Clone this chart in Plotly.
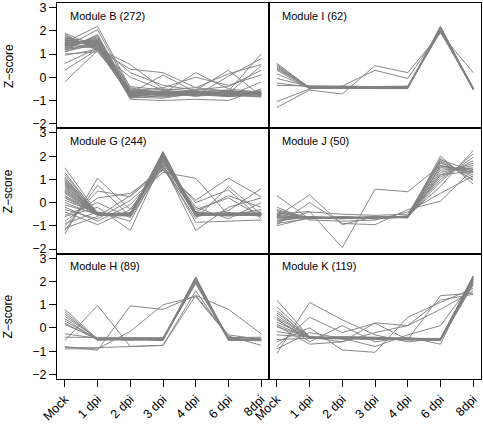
import plotly.graph_objects as go
from plotly.subplots import make_subplots

timepoints = ["Mock", "1 dpi", "2 dpi", "3 dpi", "4 dpi", "6 dpi", "8dpi"]
y_ticks = [-2, -1, 0, 1, 2, 3]
y_tick_labels = ["\u22122", "\u22121", "0", "1", "2", "3"]

module_B = [
    [1.85, 1.15, -0.70, -0.65, -0.70, -0.68, -0.72],
    [1.80, 1.20, -0.80, -0.72, -0.60, -0.75, -0.65],
    [1.75, 1.25, -0.65, -0.80, -0.75, -0.62, -0.78],
    [1.70, 1.30, -0.75, -0.60, -0.68, -0.80, -0.60],
    [1.65, 1.35, -0.85, -0.70, -0.78, -0.66, -0.70],
    [1.60, 1.40, -0.60, -0.75, -0.62, -0.72, -0.82],
    [1.55, 1.45, -0.72, -0.66, -0.82, -0.60, -0.68],
    [1.50, 1.50, -0.90, -0.78, -0.70, -0.78, -0.58],
    [1.45, 1.55, -0.68, -0.62, -0.66, -0.70, -0.75],
    [1.40, 1.60, -0.78, -0.85, -0.72, -0.64, -0.66],
    [1.35, 1.65, -0.62, -0.70, -0.58, -0.82, -0.80],
    [1.30, 1.70, -0.82, -0.64, -0.76, -0.70, -0.62],
    [1.25, 1.75, -0.70, -0.76, -0.64, -0.58, -0.72],
    [1.20, 1.80, -0.58, -0.68, -0.80, -0.76, -0.85],
    [1.15, 1.85, -0.76, -0.72, -0.68, -0.66, -0.64],
    [1.10, 1.60, -0.88, -0.62, -0.74, -0.84, -0.70],
    [1.90, 1.30, -0.66, -0.82, -0.60, -0.70, -0.76],
    [1.62, 1.38, -0.74, -0.69, -0.71, -0.73, -0.69],
    [1.48, 1.52, -0.67, -0.74, -0.77, -0.68, -0.74],
    [1.38, 1.62, -0.79, -0.67, -0.66, -0.77, -0.71],
    [1.50, 2.20, -0.45, -0.70, -0.72, -0.62, -0.68],
    [1.30, 2.05, -0.55, -0.60, -0.65, -0.75, -0.70],
    [-0.20, 1.15, 0.00, -0.55, -0.70, -0.65, -0.60],
    [0.30, 1.20, -0.60, -0.65, -0.80, -0.70, 0.50],
    [0.60, 1.25, 0.55, -0.50, -0.60, -0.55, -0.75],
    [0.95, 1.20, 0.35, 0.20, -0.45, -0.60, -0.70],
    [1.00, 1.10, -0.50, -0.70, 0.20, -0.50, -0.65],
    [1.20, 1.35, -0.60, -0.75, -0.55, 0.30, -0.80],
    [1.40, 1.25, -0.85, -0.90, -0.70, -0.60, 1.00],
    [1.60, 1.45, -0.75, -0.60, -0.80, 0.05, 0.80],
    [1.25, 1.40, 0.20, -0.35, -0.55, -0.40, 0.30],
    [1.70, 1.50, -0.95, -1.00, -0.95, -1.00, -0.50],
    [1.45, 1.30, -0.60, -0.45, 0.00, -0.35, 0.10],
    [1.10, 1.45, -0.70, 0.10, -0.65, -0.80, -0.20],
    [1.35, 1.55, -0.40, -0.55, -0.45, 0.15, 0.55],
]

module_I = [
    [0.60, -0.45, -0.45, -0.45, -0.45, 2.15, -0.50],
    [0.55, -0.48, -0.46, -0.48, -0.47, 2.10, -0.52],
    [0.50, -0.44, -0.47, -0.46, -0.44, 2.20, -0.48],
    [0.45, -0.47, -0.44, -0.44, -0.48, 2.05, -0.55],
    [0.40, -0.46, -0.48, -0.47, -0.46, 2.12, -0.45],
    [0.35, -0.43, -0.45, -0.45, -0.43, 2.00, -0.50],
    [0.30, -0.49, -0.43, -0.49, -0.49, 2.18, -0.53],
    [0.15, -0.45, -0.46, -0.44, -0.45, 2.08, -0.47],
    [-0.05, -0.40, -0.40, -0.40, -0.40, 2.10, -0.45],
    [-0.25, -0.42, -0.42, -0.42, -0.42, 1.95, -0.50],
    [-0.35, -0.38, -0.38, -0.40, -0.38, 2.00, -0.45],
    [-1.30, -0.55, -0.72, 0.50, 0.20, 1.90, 0.20],
    [-1.05, -0.50, -0.38, 0.30, -0.05, 2.00, -0.50],
]

module_G = [
    [1.50, -0.45, -0.50, 2.20, -0.45, -0.50, -0.48],
    [1.30, -0.50, -0.55, 2.15, -0.50, -0.45, -0.52],
    [1.20, -0.48, -0.45, 2.10, -0.55, -0.55, -0.45],
    [1.10, -0.52, -0.52, 2.05, -0.40, -0.50, -0.55],
    [1.05, -0.49, -0.50, 2.14, -0.52, -0.49, -0.51],
    [1.00, -0.46, -0.48, 2.00, -0.48, -0.58, -0.50],
    [0.95, -0.53, -0.55, 2.06, -0.46, -0.53, -0.47],
    [0.90, -0.55, -0.58, 1.95, -0.52, -0.48, -0.58],
    [0.85, -0.47, -0.47, 2.16, -0.54, -0.51, -0.53],
    [0.80, -0.50, -0.46, 1.90, -0.45, -0.52, -0.46],
    [0.75, -0.52, -0.51, 2.01, -0.49, -0.47, -0.50],
    [0.70, -0.44, -0.54, 2.18, -0.58, -0.46, -0.53],
    [0.65, -0.49, -0.49, 1.94, -0.44, -0.54, -0.55],
    [0.60, -0.56, -0.50, 2.12, -0.42, -0.56, -0.49],
    [0.55, -0.46, -0.53, 2.04, -0.51, -0.50, -0.48],
    [0.50, -0.48, -0.56, 2.02, -0.50, -0.44, -0.56],
    [0.45, -0.51, -0.48, 1.88, -0.47, -0.52, -0.52],
    [0.40, -0.53, -0.44, 1.85, -0.56, -0.53, -0.44],
    [0.30, -0.47, -0.52, 2.08, -0.47, -0.50, -0.51],
    [0.25, -0.50, -0.50, 1.97, -0.55, -0.48, -0.49],
    [0.20, -0.51, -0.49, 1.98, -0.53, -0.47, -0.54],
    [0.10, -0.45, -0.53, 1.80, -0.44, -0.55, -0.47],
    [0.00, -0.54, -0.47, 1.92, -0.51, -0.49, -0.52],
    [-0.10, -0.49, -0.51, 1.75, -0.49, -0.51, -0.50],
    [-1.35, 1.05, -0.30, 1.60, -0.55, -0.45, -0.40],
    [-1.20, 0.75, -0.60, 1.70, -0.30, 0.20, -0.60],
    [-1.00, 0.50, 0.25, 1.50, -0.70, 0.70, -0.50],
    [-0.80, 0.20, 0.40, 1.40, 0.10, 1.05, 0.25],
    [-0.60, -0.20, -1.20, 1.85, -0.60, -0.35, 0.60],
    [-0.40, -0.95, -0.30, 1.65, -1.20, -0.20, 0.20],
    [-0.30, -0.70, 0.10, 1.30, 1.05, -0.55, -0.30],
    [-0.55, 0.00, -0.65, 1.55, 0.00, 0.55, -0.70],
    [-0.90, -0.40, -0.80, 1.75, -0.20, -0.70, 0.00],
    [-0.20, -0.80, -0.10, 1.45, -0.40, 0.30, -0.20],
    [-1.10, -0.60, 0.30, 1.60, -0.85, -0.80, -0.75],
]

module_J = [
    [-0.60, -0.65, -0.65, -0.65, -0.62, 2.00, 0.80],
    [-0.55, -0.68, -0.62, -0.66, -0.60, 1.90, 0.95],
    [-0.65, -0.62, -0.68, -0.62, -0.64, 1.80, 1.10],
    [-0.50, -0.70, -0.64, -0.68, -0.58, 1.70, 1.20],
    [-0.70, -0.64, -0.66, -0.64, -0.66, 1.60, 1.30],
    [-0.45, -0.66, -0.70, -0.60, -0.61, 1.50, 1.40],
    [-0.62, -0.60, -0.63, -0.67, -0.63, 1.40, 1.50],
    [-0.35, -0.69, -0.61, -0.63, -0.59, 1.30, 1.60],
    [-0.75, -0.63, -0.67, -0.61, -0.65, 1.20, 1.70],
    [-0.40, -0.67, -0.64, -0.69, -0.62, 1.10, 1.80],
    [-0.80, -0.61, -0.69, -0.65, -0.60, 1.00, 1.95],
    [-0.30, -0.65, -0.66, -0.64, -0.64, 0.90, 2.10],
    [-0.90, -0.68, -0.62, -0.66, -0.57, 0.70, 2.25],
    [-1.00, -0.64, -0.65, -0.62, -0.61, 1.55, 1.45],
    [0.30, -0.70, -0.60, -0.70, -0.60, 1.75, 1.00],
    [-0.60, 0.33, -0.95, -0.60, -0.60, 1.20, 1.35],
    [-0.50, -0.38, -1.94, 0.58, 0.47, 1.60, 1.30],
    [-0.95, 0.00, -0.90, -0.95, -0.30, 0.06, 1.45],
    [-0.20, -0.75, -0.80, -0.75, -0.40, 0.40, 1.15],
    [-0.85, -0.40, -0.50, -0.55, -0.50, 1.85, 1.35],
]

module_H = [
    [0.80, -0.48, -0.50, -0.48, 2.20, -0.50, -0.52],
    [0.70, -0.52, -0.48, -0.52, 2.15, -0.48, -0.50],
    [0.60, -0.50, -0.52, -0.50, 2.10, -0.52, -0.55],
    [0.50, -0.46, -0.50, -0.46, 2.05, -0.46, -0.48],
    [0.40, -0.53, -0.46, -0.53, 2.00, -0.54, -0.53],
    [0.30, -0.49, -0.53, -0.49, 1.95, -0.50, -0.50],
    [0.20, -0.51, -0.49, -0.55, 2.18, -0.49, -0.52],
    [0.15, -0.47, -0.51, -0.44, 1.90, -0.51, -0.49],
    [-0.25, -0.45, -0.45, -0.45, 2.00, -0.40, -0.45],
    [-0.40, -0.40, -0.40, -0.42, 2.08, -0.42, -0.40],
    [-0.55, 0.97, -0.80, -0.75, 1.40, -0.30, -0.50],
    [-0.80, -0.96, 0.95, 0.80, 1.40, 0.80, -0.25],
    [-0.90, -0.90, -0.15, 1.00, 1.35, -0.35, -0.75],
    [-0.85, -0.85, -0.80, -0.75, 1.60, -0.45, -0.55],
]

module_K = [
    [0.90, -0.40, -0.42, -0.45, -0.48, -0.50, 2.25],
    [0.75, -0.45, -0.40, -0.42, -0.45, -0.52, 2.20],
    [0.65, -0.38, -0.45, -0.48, -0.50, -0.48, 2.15],
    [0.55, -0.43, -0.38, -0.40, -0.46, -0.55, 2.10],
    [0.45, -0.41, -0.46, -0.44, -0.52, -0.50, 2.05],
    [0.35, -0.46, -0.43, -0.50, -0.44, -0.46, 2.00],
    [0.25, -0.39, -0.41, -0.46, -0.49, -0.53, 1.95],
    [0.15, -0.44, -0.48, -0.42, -0.47, -0.49, 2.22],
    [0.05, -0.42, -0.44, -0.47, -0.51, -0.51, 1.90],
    [-0.15, -0.40, -0.40, -0.43, -0.45, -0.47, 2.18],
    [-0.30, -0.37, -0.47, -0.49, -0.50, -0.54, 1.85],
    [-0.50, -0.45, -0.39, -0.41, -0.48, -0.50, 2.12],
    [1.20, -0.40, -0.60, -0.20, 0.10, 0.80, 1.60],
    [-1.10, 1.10, 0.35, -0.30, -0.60, -0.45, 2.10],
    [-0.80, 0.46, -0.20, 0.20, -0.50, 1.39, 1.50],
    [-0.60, 0.00, -0.95, -1.05, 0.46, 1.10, 1.70],
    [0.10, -0.70, -0.60, 0.22, 0.10, 1.20, 1.45],
    [-0.90, -0.20, -0.45, -0.80, -0.30, 0.10, 2.00],
    [0.40, -0.60, 0.10, -0.60, -0.40, -0.70, 2.20],
]

panels = [
    ("Module B (272)", module_B, 1, 1),
    ("Module I (62)", module_I, 1, 2),
    ("Module G (244)", module_G, 2, 1),
    ("Module J (50)", module_J, 2, 2),
    ("Module H (89)", module_H, 3, 1),
    ("Module K (119)", module_K, 3, 2),
]

FONT = "Liberation Sans, Arial, Helvetica, sans-serif"
LINE_COLOR = "#828282"

fig = make_subplots(rows=3, cols=2, horizontal_spacing=0, vertical_spacing=0)

x_idx = list(range(len(timepoints)))
for title, lines, r, c in panels:
    xs, ys = [], []
    for line in lines:
        xs += x_idx + [None]
        ys += list(line) + [None]
    fig.add_trace(
        go.Scatter(x=xs, y=ys, mode="lines",
                   line=dict(color=LINE_COLOR, width=0.95),
                   hoverinfo="skip", showlegend=False),
        row=r, col=c,
    )

for i, (title, lines, r, c) in enumerate(panels):
    n = i + 1
    suffix = "" if n == 1 else str(n)
    fig.add_annotation(
        text=title, xref=f"x{suffix} domain", yref=f"y{suffix} domain",
        x=0.052, y=0.90, xanchor="left", yanchor="middle", showarrow=False,
        font=dict(family=FONT, size=11, color="black"),
    )
    if c == 1:
        fig.add_annotation(
            text="Z\u2212score", xref="paper", yref=f"y{suffix} domain",
            x=-0.115, y=0.5, xanchor="center", yanchor="middle",
            textangle=-90, showarrow=False,
            font=dict(family=FONT, size=12, color="black"),
        )

for r in range(1, 4):
    for c in range(1, 3):
        fig.update_xaxes(
            range=[-0.24, 6.24], showgrid=False, zeroline=False,
            showline=True, mirror=True, linecolor="black", linewidth=1,
            tickvals=x_idx, ticktext=timepoints,
            ticks="outside" if r == 3 else "",
            ticklen=7, tickcolor="black",
            showticklabels=(r == 3), tickangle=-45,
            tickfont=dict(family=FONT, size=12.5, color="black"),
            row=r, col=c,
        )
        fig.update_yaxes(
            range=[-2.2, 3.2], showgrid=False, zeroline=False,
            showline=True, mirror=True, linecolor="black", linewidth=1,
            tickvals=y_ticks, ticktext=y_tick_labels,
            ticks="outside" if c == 1 else "",
            ticklen=7, tickcolor="black",
            showticklabels=(c == 1),
            tickfont=dict(family=FONT, size=12.5, color="black"),
            row=r, col=c,
        )

fig.update_layout(
    width=483, height=424, autosize=False,
    margin=dict(l=57, r=1, t=1, b=43),
    paper_bgcolor="white", plot_bgcolor="white",
    showlegend=False,
)

fig.write_html(
    "out.html",
    config={"displayModeBar": False, "staticPlot": True},
    post_script="document.body.style.margin='0';document.body.style.overflow='hidden';",
)
